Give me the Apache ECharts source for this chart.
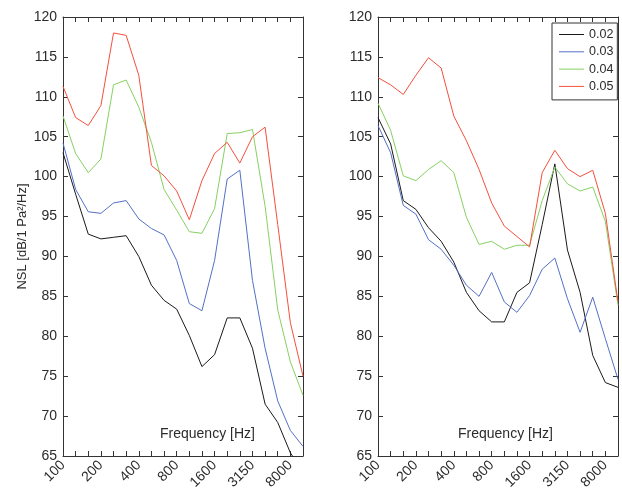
<!DOCTYPE html>
<html>
<head>
<meta charset="utf-8">
<script src="https://cdn.jsdelivr.net/npm/echarts@6/dist/echarts.min.js"></script>
<style>html,body{margin:0;padding:0;background:#fff;}#c{width:622px;height:493px;}</style>
</head>
<body>
<div id="c"></div>
<script>
// Third-octave band centre frequencies (categories)
var bands = ['100','125','160','200','250','315','400','500','630','800','1000','1250','1600','2000','2500','3150','4000','5000','6300','8000'];
// Tick labels as printed on the figure
var tickLabels = ['100','','','200','','','400','','','800','','','1600','','','3150','','','8000',''];
var seriesNames = ['0.02','0.03','0.04','0.05'];
var yTicks = {min: 65, max: 120, step: 5};

// Left panel
var left002 = [103.0, 97.8, 92.8, 92.2, 92.4, 92.6, 90.0, 86.4, 84.5, 83.4, 80.1, 76.2, 77.7, 82.3, 82.3, 78.5, 71.5, 69.2, 65.4, 63.0];
var left003 = [104.2, 98.4, 95.6, 95.4, 96.7, 97.0, 94.7, 93.5, 92.7, 89.5, 84.1, 83.2, 89.5, 99.7, 100.8, 87.0, 78.5, 71.9, 68.2, 66.2];
var left004 = [107.6, 102.9, 100.5, 102.2, 111.5, 112.1, 108.7, 104.3, 98.4, 95.8, 93.1, 92.9, 96.0, 105.4, 105.5, 105.9, 96.3, 83.3, 76.8, 72.6];
var left005 = [111.3, 107.4, 106.4, 108.9, 118.0, 117.7, 112.7, 101.4, 100.1, 98.2, 94.6, 99.5, 102.9, 104.3, 101.7, 105.0, 106.2, 94.0, 81.7, 75.0];

// Right panel
var right002 = [107.4, 104.1, 97.0, 95.9, 93.6, 91.9, 89.3, 85.5, 83.2, 81.8, 81.8, 85.5, 86.7, 94.0, 101.6, 90.8, 85.5, 77.6, 74.2, 73.6];
var right003 = [106.4, 103.0, 96.4, 95.3, 92.1, 90.9, 88.9, 86.4, 85.0, 88.0, 84.3, 83.0, 85.1, 88.4, 89.8, 84.7, 80.5, 84.9, 79.7, 74.6];
var right004 = [109.2, 105.8, 100.1, 99.5, 100.9, 102.0, 100.5, 94.9, 91.5, 91.9, 90.9, 91.4, 91.4, 97.0, 101.2, 99.1, 98.2, 98.7, 94.4, 83.9];
var right005 = [112.4, 111.5, 110.3, 112.7, 114.9, 113.6, 107.6, 104.5, 100.9, 96.7, 93.8, 92.5, 91.2, 100.5, 103.3, 101.0, 100.0, 100.8, 95.4, 84.3];

var colors = ['#1a1a1a', '#5470c6', '#86d162', '#f5503c'];
var leftData = [left002, left003, left004, left005];
var rightData = [right002, right003, right004, right005];

var FONT = 'Liberation Sans, Arial, sans-serif';
var TXT = '#2b2b2b';
var AX = '#333333';

function xAx(gi, pos, showLabels) {
  return {
    type: 'category', gridIndex: gi, position: pos, data: bands, boundaryGap: false,
    axisLine: {show: true, onZero: false, lineStyle: {color: AX, width: 1}},
    axisTick: {show: true, inside: true, interval: 0, length: 5, lineStyle: {color: AX}},
    axisLabel: showLabels ? {
      show: true, interval: 0, rotate: 45, margin: 7, fontFamily: FONT, fontSize: 14, color: TXT,
      formatter: function (v, i) { return tickLabels[i]; }
    } : {show: false},
    splitLine: {show: false}
  };
}
function yAx(gi, pos, showLabels, withName) {
  var o = {
    type: 'value', gridIndex: gi, position: pos, min: yTicks.min, max: yTicks.max, interval: yTicks.step,
    axisLine: {show: true, onZero: false, lineStyle: {color: AX, width: 1}},
    axisTick: {show: true, inside: true, length: 5, lineStyle: {color: AX}},
    axisLabel: showLabels ? {show: true, margin: 6, fontFamily: FONT, fontSize: 14, color: TXT} : {show: false},
    splitLine: {show: false}
  };
  if (withName) {
    o.name = 'NSL [dB/1 Pa²/Hz]';
    o.nameLocation = 'middle';
    o.nameGap = 34;
    o.nameTextStyle = {fontFamily: FONT, fontSize: 13, color: TXT};
  }
  return o;
}

var series = [];
[leftData, rightData].forEach(function (set, gi) {
  set.forEach(function (d, k) {
    series.push({
      name: seriesNames[k], type: 'line', xAxisIndex: gi * 2, yAxisIndex: gi * 2,
      data: d, symbol: 'none', showSymbol: false, clip: true, animation: false,
      lineStyle: {color: colors[k], width: 1}, itemStyle: {color: colors[k]}
    });
  });
});

var chart = echarts.init(document.getElementById('c'), null, {renderer: 'canvas'});
chart.setOption({
  animation: false,
  backgroundColor: '#ffffff',
  grid: [
    {left: 63, top: 17, width: 240, height: 439},
    {left: 378, top: 17, width: 240, height: 439}
  ],
  xAxis: [xAx(0, 'bottom', true), xAx(0, 'top', false), xAx(1, 'bottom', true), xAx(1, 'top', false)],
  yAxis: [yAx(0, 'left', true, true), yAx(0, 'right', false, false), yAx(1, 'left', true, false), yAx(1, 'right', false, false)],
  legend: {
    data: seriesNames, orient: 'vertical', left: 552, top: 23,
    itemWidth: 25, itemHeight: 12, itemGap: 4.3,
    padding: [5, 4, 7, 7],
    borderColor: AX, borderWidth: 1, backgroundColor: '#fff',
    textStyle: {fontFamily: FONT, fontSize: 12.5, color: TXT},
    icon: 'path://M0,6 L25,6 L25,7 L0,7 Z'
  },
  graphic: [
    {type: 'text', left: 160, top: 427, style: {text: 'Frequency [Hz]', font: '14px ' + FONT, fill: TXT}},
    {type: 'text', left: 458, top: 427, style: {text: 'Frequency [Hz]', font: '14px ' + FONT, fill: TXT}}
  ],
  series: series
});
</script>
</body>
</html>
